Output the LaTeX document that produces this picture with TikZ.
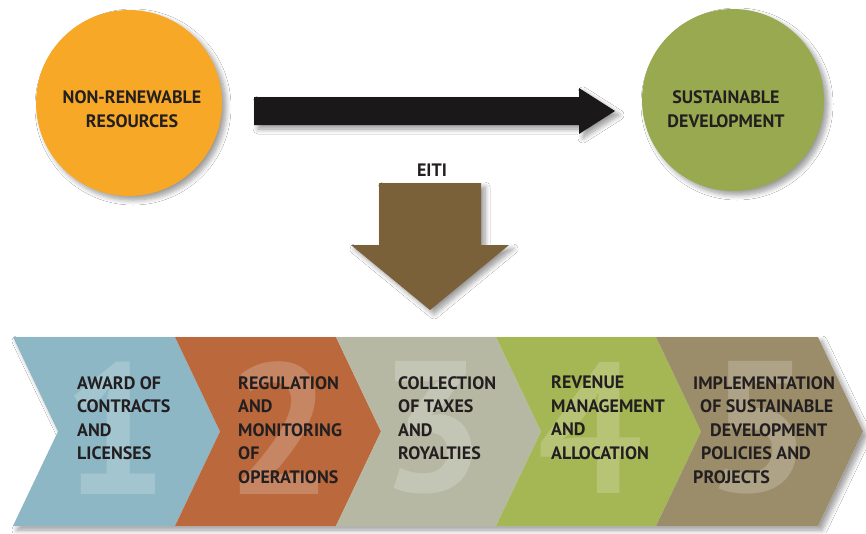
\documentclass[tikz,border=0pt]{standalone}
\usepackage{fontspec}
\setmainfont{PT Sans}
\usetikzlibrary{shadows.blur}
\definecolor{cOrange}{RGB}{247,168,38}
\definecolor{cGreen}{RGB}{153,169,80}
\definecolor{cBrown}{RGB}{122,97,58}
\definecolor{cBlack}{RGB}{26,24,24}
\definecolor{cText}{RGB}{35,31,32}
\definecolor{chA}{RGB}{141,183,197}
\definecolor{chB}{RGB}{186,104,60}
\definecolor{chC}{RGB}{182,184,163}
\definecolor{chD}{RGB}{165,182,84}
\definecolor{chE}{RGB}{155,140,106}
\tikzset{
  softshadow/.style={blur shadow={shadow xshift=4pt,shadow yshift=-4pt,shadow blur steps=8,shadow blur radius=5pt,shadow opacity=40}},
  lbl/.style={font=\fontsize{18}{23.5}\selectfont\bfseries, text=cText, inner sep=0pt},
  steptext/.style={lbl, align=left, anchor=north west},
  bignum/.style={font=\fontsize{186}{186}\selectfont\bfseries, text=white, text opacity=0.2, inner sep=0pt, anchor=center},
}
\begin{document}
\begin{tikzpicture}[x=1pt,y=-1pt]
\useasboundingbox[fill=white] (0,0) rectangle (866,533);
% circles
\node[circle, fill=cOrange, minimum size=186pt, inner sep=0pt, softshadow] (src) at (129,103) {};
\node[circle, fill=cGreen, minimum size=182pt, inner sep=0pt, softshadow] (dst) at (733,100) {};
\node[lbl, align=center] (srct) at (132,109) {NON-RENEWABLE\\RESOURCES};
\node[lbl, align=center] (dstt) at (726,109) {SUSTAINABLE\\DEVELOPMENT};
% black arrow from src to dst
\coordinate (hat) at (254,97);
\coordinate (hab) at (254,125);
\coordinate (hb) at (615,111);
\fill[cBlack, softshadow] (hat) -- (579,97) -- (579,88) -- (hb) -- (579,134) -- (579,125) -- (hab) -- cycle;
% EITI
\node[lbl] (eiti) at (432,170) {EITI};
\coordinate (val) at (379,183);
\coordinate (var) at (481,183);
\coordinate (vb) at (430,310);
\fill[cBrown, softshadow] (val) -- (var) -- (481,245) -- (509,245) -- (vb) -- (351,245) -- (379,245) -- cycle;
% chevron strip shadow
\fill[white, softshadow] (13,337) -- (818,337) -- (863,431.5) -- (818,526) -- (13,526) -- (58,431.5) -- cycle;
% chevrons
\def\ct{337}\def\cb{526}\def\cm{431.5}
\fill[chA] (13,\ct) -- (175,\ct) -- (220,\cm) -- (175,\cb) -- (13,\cb) -- (58,\cm) -- cycle;
\fill[chB] (175,\ct) -- (336,\ct) -- (381,\cm) -- (336,\cb) -- (175,\cb) -- (220,\cm) -- cycle;
\fill[chC] (336,\ct) -- (496,\ct) -- (541,\cm) -- (496,\cb) -- (336,\cb) -- (381,\cm) -- cycle;
\fill[chD] (496,\ct) -- (656,\ct) -- (701,\cm) -- (656,\cb) -- (496,\cb) -- (541,\cm) -- cycle;
\fill[chE] (656,\ct) -- (818,\ct) -- (863,\cm) -- (818,\cb) -- (656,\cb) -- (701,\cm) -- cycle;
% big numbers
\node[bignum] (n1) at (115,428) {1};
\node[bignum] (n2) at (280,428) {2};
\node[bignum] (n3) at (432,428) {3};
\node[bignum] (n4) at (590,428) {4};
\node[bignum] (n5) at (759,428) {5};
% step texts
\node[steptext] (s1) at (77,376) {AWARD OF\\CONTRACTS\\AND\\LICENSES};
\node[steptext] (s2) at (238,376) {REGULATION\\AND\\MONITORING\\OF\\OPERATIONS};
\node[steptext] (s3) at (398,376) {COLLECTION\\OF TAXES\\AND\\ROYALTIES};
\node[steptext] (s4) at (551,376) {REVENUE\\MANAGEMENT\\AND\\ALLOCATION};
\node[steptext] (s5) at (693,376) {IMPLEMENTATION\\\hspace*{7pt}OF SUSTAINABLE\\\hspace*{17pt}DEVELOPMENT\\\hspace*{8pt}POLICIES AND\\PROJECTS};
\end{tikzpicture}
\end{document}
